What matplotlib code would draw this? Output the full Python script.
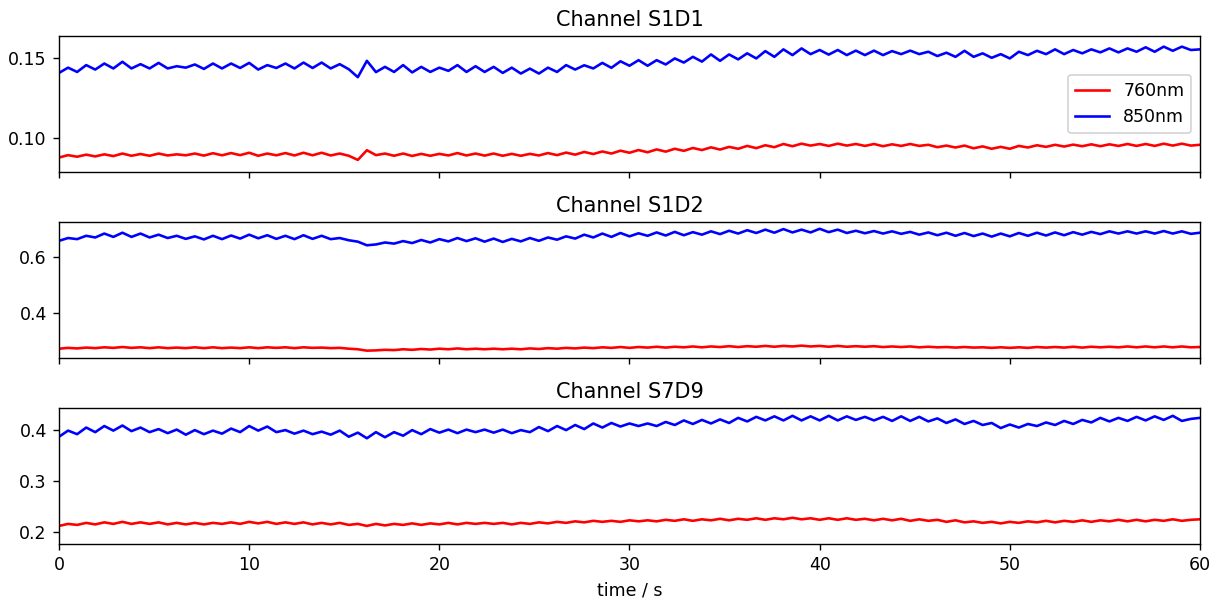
import numpy as np
import matplotlib as mpl
mpl.use('Agg')
import matplotlib.pyplot as plt

# sample times (s)
t = np.linspace(0, 60, 127)

channels = ["S1D1", "S1D2", "S7D9"]
labels = ["760nm", "850nm"]

# S1D1
s1d1_760 = [0.0875, 0.0890, 0.0880, 0.0893, 0.0882, 0.0895, 0.0884, 0.0900, 0.0886, 0.0897,
            0.0886, 0.0900, 0.0888, 0.0895, 0.0889, 0.0900, 0.0887, 0.0902, 0.0889, 0.0903,
            0.0890, 0.0905, 0.0886, 0.0900, 0.0889, 0.0903, 0.0888, 0.0905, 0.0889, 0.0905,
            0.0888, 0.0900, 0.0886, 0.0860, 0.0921, 0.0890, 0.0900, 0.0886, 0.0900, 0.0885,
            0.0898, 0.0886, 0.0898, 0.0888, 0.0903, 0.0888, 0.0900, 0.0887, 0.0900, 0.0886,
            0.0898, 0.0886, 0.0898, 0.0888, 0.0903, 0.0890, 0.0906, 0.0893, 0.0910, 0.0897,
            0.0913, 0.0900, 0.0918, 0.0905, 0.0922, 0.0908, 0.0926, 0.0912, 0.0930, 0.0917,
            0.0935, 0.0922, 0.0939, 0.0925, 0.0942, 0.0930, 0.0948, 0.0934, 0.0952, 0.0940,
            0.0960, 0.0946, 0.0962, 0.0950, 0.0960, 0.0948, 0.0962, 0.0950, 0.0960, 0.0948,
            0.0960, 0.0946, 0.0958, 0.0948, 0.0960, 0.0948, 0.0955, 0.0940, 0.0950, 0.0938,
            0.0950, 0.0933, 0.0945, 0.0930, 0.0942, 0.0930, 0.0948, 0.0938, 0.0952, 0.0942,
            0.0955, 0.0944, 0.0956, 0.0946, 0.0958, 0.0946, 0.0958, 0.0948, 0.0960, 0.0948,
            0.0960, 0.0948, 0.0962, 0.0950, 0.0962, 0.0950, 0.0955]
s1d1_850 = [0.1407, 0.1440, 0.1413, 0.1456, 0.1428, 0.1466, 0.1435, 0.1477, 0.1435, 0.1462,
            0.1435, 0.1470, 0.1435, 0.1449, 0.1440, 0.1460, 0.1432, 0.1466, 0.1435, 0.1466,
            0.1438, 0.1470, 0.1428, 0.1456, 0.1438, 0.1466, 0.1435, 0.1472, 0.1438, 0.1472,
            0.1435, 0.1462, 0.1430, 0.1380, 0.1483, 0.1412, 0.1445, 0.1413, 0.1456, 0.1410,
            0.1445, 0.1413, 0.1440, 0.1420, 0.1456, 0.1413, 0.1449, 0.1413, 0.1445, 0.1407,
            0.1440, 0.1403, 0.1434, 0.1403, 0.1440, 0.1413, 0.1456, 0.1428, 0.1455, 0.1435,
            0.1470, 0.1439, 0.1480, 0.1452, 0.1487, 0.1452, 0.1487, 0.1460, 0.1498, 0.1472,
            0.1508, 0.1478, 0.1523, 0.1483, 0.1523, 0.1492, 0.1530, 0.1498, 0.1544, 0.1508,
            0.1555, 0.1519, 0.1561, 0.1525, 0.1551, 0.1522, 0.1551, 0.1519, 0.1547, 0.1519,
            0.1547, 0.1519, 0.1544, 0.1525, 0.1547, 0.1525, 0.1540, 0.1513, 0.1534, 0.1508,
            0.1546, 0.1508, 0.1530, 0.1502, 0.1525, 0.1498, 0.1540, 0.1519, 0.1546, 0.1525,
            0.1555, 0.1525, 0.1551, 0.1530, 0.1555, 0.1536, 0.1561, 0.1536, 0.1561, 0.1540,
            0.1568, 0.1540, 0.1572, 0.1546, 0.1572, 0.1551, 0.1555]

# S1D2
s1d2_760 = [0.272, 0.275, 0.273, 0.276, 0.274, 0.277, 0.275, 0.278, 0.275, 0.277,
            0.274, 0.277, 0.274, 0.276, 0.274, 0.277, 0.274, 0.277, 0.274, 0.276,
            0.274, 0.277, 0.274, 0.277, 0.275, 0.277, 0.274, 0.277, 0.275, 0.276,
            0.274, 0.275, 0.272, 0.270, 0.265, 0.266, 0.268, 0.267, 0.270, 0.268,
            0.271, 0.269, 0.272, 0.270, 0.273, 0.270, 0.272, 0.270, 0.272, 0.270,
            0.272, 0.270, 0.273, 0.271, 0.274, 0.272, 0.275, 0.273, 0.276, 0.274,
            0.277, 0.275, 0.278, 0.275, 0.278, 0.276, 0.279, 0.276, 0.279, 0.277,
            0.280, 0.277, 0.280, 0.278, 0.281, 0.278, 0.281, 0.279, 0.282, 0.279,
            0.282, 0.280, 0.283, 0.280, 0.282, 0.279, 0.282, 0.279, 0.281, 0.279,
            0.281, 0.278, 0.280, 0.278, 0.280, 0.277, 0.279, 0.277, 0.278, 0.276,
            0.278, 0.276, 0.277, 0.275, 0.277, 0.275, 0.277, 0.275, 0.278, 0.276,
            0.278, 0.276, 0.279, 0.276, 0.279, 0.277, 0.279, 0.277, 0.280, 0.277,
            0.280, 0.277, 0.280, 0.277, 0.280, 0.277, 0.278]
s1d2_850 = [0.658, 0.668, 0.664, 0.676, 0.670, 0.684, 0.672, 0.687, 0.672, 0.684,
            0.670, 0.680, 0.668, 0.676, 0.665, 0.674, 0.663, 0.676, 0.664, 0.677,
            0.666, 0.680, 0.667, 0.678, 0.665, 0.676, 0.664, 0.678, 0.665, 0.676,
            0.664, 0.668, 0.660, 0.655, 0.642, 0.645, 0.652, 0.648, 0.657, 0.650,
            0.661, 0.652, 0.664, 0.656, 0.668, 0.657, 0.667, 0.655, 0.666, 0.654,
            0.665, 0.656, 0.668, 0.658, 0.670, 0.662, 0.674, 0.666, 0.680, 0.670,
            0.684, 0.672, 0.686, 0.674, 0.685, 0.676, 0.688, 0.677, 0.690, 0.678,
            0.689, 0.680, 0.692, 0.682, 0.694, 0.684, 0.696, 0.686, 0.698, 0.687,
            0.700, 0.688, 0.698, 0.688, 0.701, 0.689, 0.698, 0.686, 0.694, 0.685,
            0.693, 0.684, 0.692, 0.683, 0.690, 0.680, 0.688, 0.678, 0.687, 0.676,
            0.686, 0.675, 0.684, 0.673, 0.684, 0.674, 0.686, 0.676, 0.687, 0.677,
            0.688, 0.678, 0.689, 0.680, 0.690, 0.682, 0.692, 0.684, 0.692, 0.684,
            0.692, 0.684, 0.693, 0.684, 0.692, 0.683, 0.687]

# S7D9
s7d9_760 = [0.212, 0.216, 0.214, 0.218, 0.215, 0.219, 0.216, 0.220, 0.216, 0.219,
            0.216, 0.219, 0.215, 0.218, 0.215, 0.218, 0.215, 0.218, 0.216, 0.219,
            0.216, 0.220, 0.217, 0.220, 0.216, 0.219, 0.216, 0.219, 0.215, 0.218,
            0.215, 0.218, 0.214, 0.216, 0.212, 0.216, 0.213, 0.216, 0.214, 0.217,
            0.214, 0.217, 0.215, 0.218, 0.215, 0.218, 0.216, 0.218, 0.216, 0.218,
            0.215, 0.218, 0.216, 0.219, 0.217, 0.220, 0.218, 0.221, 0.219, 0.222,
            0.220, 0.222, 0.220, 0.223, 0.221, 0.223, 0.221, 0.224, 0.222, 0.225,
            0.222, 0.225, 0.223, 0.226, 0.223, 0.226, 0.224, 0.227, 0.224, 0.227,
            0.225, 0.228, 0.225, 0.227, 0.224, 0.227, 0.224, 0.227, 0.224, 0.226,
            0.223, 0.226, 0.223, 0.226, 0.222, 0.225, 0.222, 0.224, 0.220, 0.223,
            0.219, 0.221, 0.218, 0.220, 0.217, 0.220, 0.218, 0.221, 0.219, 0.222,
            0.219, 0.222, 0.220, 0.223, 0.220, 0.223, 0.221, 0.224, 0.221, 0.224,
            0.221, 0.224, 0.222, 0.225, 0.222, 0.224, 0.225]
s7d9_850 = [0.387, 0.399, 0.392, 0.405, 0.396, 0.408, 0.399, 0.409, 0.398, 0.405,
            0.396, 0.402, 0.394, 0.401, 0.391, 0.400, 0.392, 0.399, 0.393, 0.403,
            0.396, 0.408, 0.399, 0.407, 0.396, 0.400, 0.393, 0.399, 0.392, 0.397,
            0.391, 0.399, 0.387, 0.395, 0.384, 0.396, 0.386, 0.396, 0.389, 0.400,
            0.392, 0.402, 0.395, 0.401, 0.394, 0.401, 0.396, 0.401, 0.395, 0.401,
            0.394, 0.400, 0.396, 0.406, 0.398, 0.408, 0.400, 0.410, 0.402, 0.413,
            0.405, 0.414, 0.407, 0.413, 0.408, 0.413, 0.408, 0.416, 0.410, 0.419,
            0.412, 0.420, 0.413, 0.421, 0.414, 0.424, 0.417, 0.426, 0.419, 0.427,
            0.419, 0.428, 0.419, 0.427, 0.419, 0.428, 0.419, 0.427, 0.420, 0.426,
            0.419, 0.426, 0.418, 0.427, 0.418, 0.426, 0.417, 0.423, 0.414, 0.421,
            0.412, 0.418, 0.410, 0.414, 0.404, 0.411, 0.405, 0.412, 0.408, 0.415,
            0.410, 0.418, 0.412, 0.420, 0.415, 0.424, 0.417, 0.424, 0.418, 0.426,
            0.419, 0.427, 0.420, 0.428, 0.418, 0.422, 0.424]

data = [(s1d1_760, s1d1_850), (s1d2_760, s1d2_850), (s7d9_760, s7d9_850)]
ylims = [(0.0785, 0.1639), (0.239, 0.725), (0.1765, 0.443)]
yticks = [[0.10, 0.15], [0.4, 0.6], [0.2, 0.3, 0.4]]

# rendered at dpi 125 -> 1217 x 600 px
fig, axes = plt.subplots(3, 1, sharex=True, figsize=(9.736, 4.8), dpi=125)
fig.subplots_adjust(left=0.0485, right=0.986, top=0.94, bottom=0.0933, hspace=0.37)

for ax, ch, (red, blue), yl, yt in zip(axes, channels, data, ylims, yticks):
    ax.plot(t, red, color='red', label=labels[0])
    ax.plot(t, blue, color='blue', label=labels[1])
    ax.set_title("Channel " + ch)
    ax.set_ylim(yl)
    ax.set_yticks(yt)

axes[0].yaxis.set_major_formatter(mpl.ticker.FormatStrFormatter('%.2f'))
axes[0].legend(loc='center right')
axes[-1].set_xlim(0, 60)
axes[-1].set_xlabel("time / s")

fig.savefig("out.png", dpi=125)
